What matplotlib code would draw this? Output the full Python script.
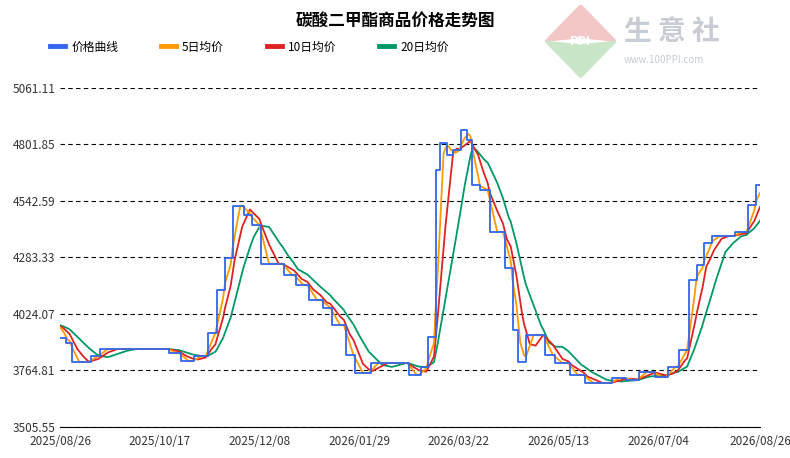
import matplotlib
matplotlib.use("Agg")
import matplotlib.pyplot as plt
import pandas as pd
from matplotlib.patches import Polygon

plt.rcParams['font.family'] = ['Noto Sans CJK SC', 'DejaVu Sans']

change_dates = ["2025-08-26","2025-08-29","2025-09-01","2025-09-11","2025-09-16","2025-10-22","2025-10-28",
 "2025-11-04","2025-11-11","2025-11-16","2025-11-20","2025-11-24","2025-11-30","2025-12-04","2025-12-09",
 "2025-12-21","2025-12-27","2026-01-03","2026-01-10","2026-01-15","2026-01-22","2026-01-27","2026-02-04",
 "2026-02-24","2026-03-02","2026-03-06","2026-03-10","2026-03-12","2026-03-16","2026-03-19","2026-03-23",
 "2026-03-26","2026-03-29","2026-04-02","2026-04-07","2026-04-15","2026-04-19","2026-04-22","2026-04-26",
 "2026-05-06","2026-05-11","2026-05-19","2026-05-27","2026-06-10","2026-06-17","2026-06-24","2026-07-02",
 "2026-07-09","2026-07-15","2026-07-20","2026-07-24","2026-07-28","2026-08-01","2026-08-13","2026-08-20",
 "2026-08-24"]
change_values = [3914,3891,3804,3831,3863,3845,3808,3831,3937,4134,4281,4520,4478,4432,4254,4203,4157,
 4088,4052,3973,3836,3753,3799,3744,3781,3918,4685,4809,4754,4777,4868,4822,4616,4593,4400,4235,3951,
 3804,3928,3836,3799,3744,3707,3730,3721,3758,3735,3781,3859,4180,4249,4350,4382,4400,4524,4616]
prior_value = 3975
yticks = [3505.55,3764.81,4024.07,4283.33,4542.59,4801.85,5061.11]
xtick_labels = ["2025/08/26","2025/10/17","2025/12/08","2026/01/29","2026/03/22","2026/05/13","2026/07/04","2026/08/26"]

start, end = pd.Timestamp("2025-08-26"), pd.Timestamp("2026-08-26")
idx = pd.date_range(start - pd.Timedelta(days=25), end)
s = pd.Series(index=pd.to_datetime(change_dates), data=change_values, dtype=float).reindex(idx)
s.iloc[0] = prior_value
s = s.ffill()
ma5 = s.rolling(5).mean()
ma10 = s.rolling(10).mean()
ma20 = s.rolling(20).mean()
sel = s.index >= start

fig = plt.figure(figsize=(7.9, 4.58), dpi=100)
ax = fig.add_axes([0.076, 0.068, 0.886, 0.74])
ax.plot(s.index[sel], ma20[sel], color="#009966", lw=1.3, label="20日均价")
ax.plot(s.index[sel], ma10[sel], color="#dd2222", lw=1.3, label="10日均价")
ax.plot(s.index[sel], ma5[sel], color="#ff9900", lw=1.3, label="5日均价")
ax.step(s.index[sel], s[sel], where="post", color="#3366ee", lw=1.3, label="价格曲线")
ax.set_ylim(yticks[0], yticks[-1])
ax.set_xlim(start, end)
ax.set_yticks(yticks)
ax.set_yticklabels([f"{v:.2f}" for v in yticks])
ax.set_xticks(pd.to_datetime([d.replace("/", "-") for d in xtick_labels]))
ax.set_xticklabels(xtick_labels)
ax.grid(axis='y', color='black', ls=(0, (4, 3)), lw=0.8)
for sp in ["top", "right", "left"]:
    ax.spines[sp].set_visible(False)
ax.tick_params(axis='both', length=0, labelsize=8.5, colors="#333333")
ax.tick_params(axis='x', pad=6)

h, l = ax.get_legend_handles_labels()
order = [3, 2, 1, 0]
leg = fig.legend([h[i] for i in order], [l[i] for i in order], loc="upper left", bbox_to_anchor=(0.05, 0.935),
           ncol=4, frameon=False, fontsize=8.5, handlelength=1.3, columnspacing=3.6, handletextpad=0.5)
for ln in leg.get_lines():
    ln.set_linewidth(3.5)
fig.text(0.5, 0.955, "碳酸二甲酯商品价格走势图", ha="center", va="center", fontsize=12, weight="bold")

# watermark logo
lax = fig.add_axes([0.69, 0.83, 0.09, 0.16]); lax.axis("off")
lax.set_xlim(0, 1); lax.set_ylim(0, 1)
lax.add_patch(Polygon([[0.5, 1], [1, 0.5], [0.5, 0.55], [0, 0.5]], color="#f4c7c7"))
lax.add_patch(Polygon([[0, 0.5], [0.5, 0.45], [1, 0.5], [0.5, 0]], color="#c9e6c9"))
lax.text(0.5, 0.5, "PPI", ha="center", va="center", color="white", fontsize=9, weight="bold")
fig.text(0.79, 0.93, "生 意 社", fontsize=20, color="#c8ccd4", weight="bold", va="center")
fig.text(0.79, 0.87, "www.100PPI.com", fontsize=7, color="#c8ccd4", va="center")
fig.savefig("out.png", dpi=100)
